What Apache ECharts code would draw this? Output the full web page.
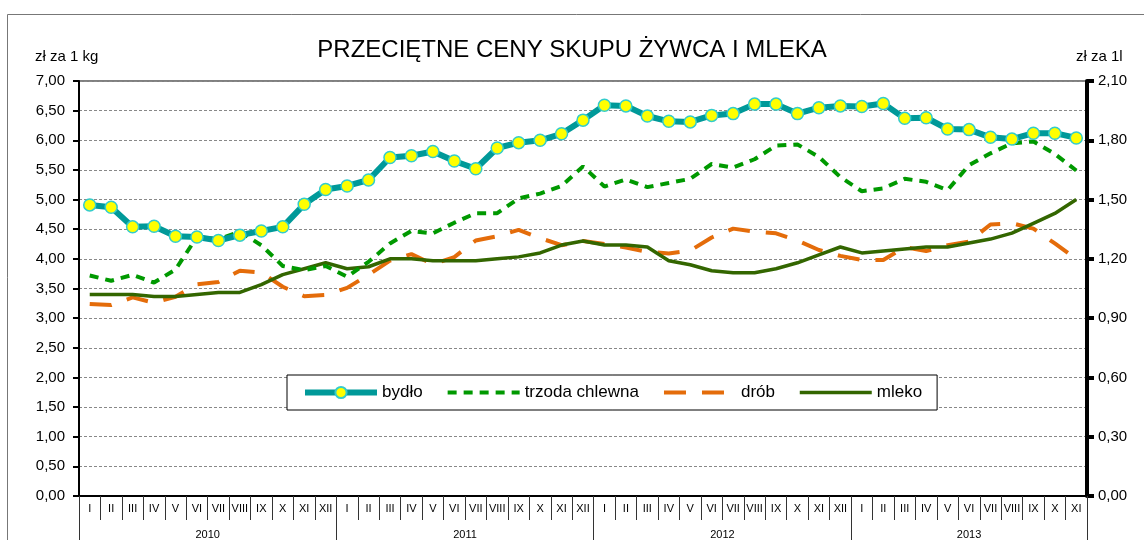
<!DOCTYPE html>
<html>
<head>
<meta charset="utf-8">
<script src="https://cdn.jsdelivr.net/npm/echarts@6/dist/echarts.min.js"></script>
<style>html,body{margin:0;padding:0;background:#fff;}#c{width:1144px;height:540px;}</style>
</head>
<body>
<div id="c"></div>
<script>
const months = ['I','II','III','IV','V','VI','VII','VIII','IX','X','XI','XII',
  'I','II','III','IV','V','VI','VII','VIII','IX','X','XI','XII',
  'I','II','III','IV','V','VI','VII','VIII','IX','X','XI','XII',
  'I','II','III','IV','V','VI','VII','VIII','IX','X','XI'];
const years = ['2010','2011','2012','2013'];
const yearStarts = [0,12,24,36,47];
const bydlo = [4.91,4.87,4.54,4.55,4.38,4.37,4.31,4.40,4.47,4.54,4.92,5.17,5.23,5.33,5.71,5.74,5.81,5.65,5.52,5.87,5.96,6.00,6.11,6.34,6.59,6.58,6.41,6.32,6.31,6.42,6.45,6.61,6.61,6.45,6.55,6.58,6.57,6.62,6.37,6.38,6.19,6.18,6.05,6.02,6.12,6.12,6.04];
const trzoda = [3.72,3.63,3.73,3.60,3.82,4.37,4.33,4.46,4.23,3.88,3.81,3.88,3.70,3.95,4.26,4.47,4.43,4.61,4.77,4.77,5.02,5.10,5.23,5.56,5.22,5.34,5.21,5.28,5.35,5.60,5.54,5.68,5.91,5.93,5.72,5.38,5.14,5.19,5.35,5.30,5.16,5.58,5.78,5.95,5.98,5.77,5.49];
const drob = [3.24,3.22,3.35,3.26,3.36,3.57,3.61,3.80,3.77,3.53,3.37,3.39,3.51,3.73,3.97,4.08,3.91,4.03,4.31,4.38,4.49,4.35,4.23,4.30,4.25,4.19,4.12,4.09,4.14,4.36,4.51,4.46,4.43,4.31,4.15,4.05,3.98,3.98,4.20,4.13,4.23,4.29,4.58,4.60,4.51,4.26,4.00];
const mleko = [1.02,1.02,1.02,1.01,1.01,1.02,1.03,1.03,1.07,1.12,1.15,1.18,1.15,1.16,1.20,1.20,1.19,1.19,1.19,1.20,1.21,1.23,1.27,1.29,1.27,1.27,1.26,1.19,1.17,1.14,1.13,1.13,1.15,1.18,1.22,1.26,1.23,1.24,1.25,1.26,1.26,1.28,1.30,1.33,1.38,1.43,1.50];

const FONT = 'Liberation Sans, Arial, sans-serif';
const fmt = v => v.toFixed(2).replace('.', ',');
const yearCenters = {};
years.forEach((y, i) => { yearCenters[((yearStarts[i] + yearStarts[i+1]) / 2).toFixed(1)] = y; });
const noSym = {color: 'rgba(0,0,0,0)', borderColor: 'rgba(0,0,0,0)', borderWidth: 0, opacity: 0};

const chart = echarts.init(document.getElementById('c'), null, {renderer: 'canvas'});
chart.setOption({
  animation: false,
  backgroundColor: '#fff',
  textStyle: {fontFamily: FONT, color: '#000'},
  graphic: [{type: 'rect', left: 5, top: 12, shape: {width: 1160, height: 560}, style: {fill: 'none', stroke: '#777', lineWidth: 1}, silent: true}],
  title: [
    {text: 'PRZECIĘTNE CENY SKUPU ŻYWCA I MLEKA', left: 'center', top: 33, textStyle: {fontFamily: FONT, fontSize: 24, fontWeight: 'normal', color: '#000'}},
    {text: 'zł za 1 kg', left: 30, top: 44, textStyle: {fontFamily: FONT, fontSize: 15, fontWeight: 'normal', color: '#000'}},
    {text: 'zł za 1l', left: 1071, top: 44, textStyle: {fontFamily: FONT, fontSize: 15, fontWeight: 'normal', color: '#000'}}
  ],
  grid: {left: 79, right: 57, top: 81, bottom: 44, show: true, borderColor: '#000', borderWidth: 1},
  legend: {
    left: 287, top: 375, orient: 'horizontal',
    backgroundColor: '#fff', borderColor: '#000', borderWidth: 1,
    padding: [9, 15], itemWidth: 72, itemHeight: 14, itemGap: 23,
    textStyle: {fontFamily: FONT, fontSize: 17, color: '#000'},
    data: [
      {name: 'bydło', lineStyle: {width: 6}},
      {name: 'trzoda chlewna', itemStyle: noSym, lineStyle: {width: 4}},
      {name: 'drób', itemStyle: noSym, lineStyle: {width: 4}},
      {name: 'mleko', itemStyle: noSym, lineStyle: {width: 3.5}}
    ]
  },
  xAxis: [
    {type: 'category', data: months, boundaryGap: true, position: 'bottom',
     axisLine: {onZero: false, lineStyle: {color: '#000', width: 2}},
     axisTick: {show: true, inside: false, interval: 0, length: 24, lineStyle: {color: '#333', width: 1}},
     axisLabel: {interval: 0, fontSize: 11, color: '#000', margin: 7, fontFamily: FONT},
     splitLine: {show: false}},
    {type: 'value', min: 0, max: 47, interval: 12, position: 'bottom',
     axisLine: {show: false, onZero: false}, axisTick: {show: true, inside: false, length: 50, lineStyle: {color: '#333', width: 1}},
     axisLabel: {show: false}, splitLine: {show: false}},
    {type: 'value', min: 0, max: 47, interval: 0.5, position: 'bottom',
     axisLine: {show: false, onZero: false}, axisTick: {show: false}, splitLine: {show: false},
     axisLabel: {margin: 33, fontSize: 11, color: '#000', fontFamily: FONT, showMinLabel: true, showMaxLabel: true,
       formatter: v => yearCenters[v.toFixed(1)] || ''}}
  ],
  yAxis: [
    {type: 'value', min: 0, max: 7, interval: 0.5, position: 'left',
     axisLine: {show: true, onZero: false, lineStyle: {color: '#000', width: 2}},
     axisTick: {show: true, inside: false, length: 6, lineStyle: {color: '#000', width: 2}},
     axisLabel: {formatter: fmt, fontSize: 15, color: '#000', margin: 14, fontFamily: FONT},
     splitLine: {show: true, lineStyle: {color: '#888', type: [3, 2], width: 1}}},
    {type: 'value', min: 0, max: 2.1, interval: 0.3, position: 'right',
     axisLine: {show: true, onZero: false, lineStyle: {color: '#000', width: 4}},
     axisTick: {show: true, inside: false, length: 7, lineStyle: {color: '#000', width: 4}},
     axisLabel: {formatter: fmt, fontSize: 15, color: '#000', margin: 11, fontFamily: FONT},
     splitLine: {show: false}}
  ],
  series: [
    {name: 'bydło', type: 'line', data: bydlo, yAxisIndex: 0, z: 5,
     lineStyle: {color: '#009999', width: 6}, itemStyle: {color: '#FFFF00', borderColor: '#33CCCC', borderWidth: 1.5},
     symbol: 'circle', symbolSize: 12, showSymbol: true},
    {name: 'trzoda chlewna', type: 'line', data: trzoda, yAxisIndex: 0, z: 4,
     lineStyle: {color: '#009900', width: 4, type: [9, 7]}, itemStyle: {color: '#009900'}, symbol: 'none'},
    {name: 'drób', type: 'line', data: drob, yAxisIndex: 0, z: 3,
     lineStyle: {color: '#E46C0A', width: 4, type: [22, 16]}, itemStyle: {color: '#E46C0A'}, symbol: 'none'},
    {name: 'mleko', type: 'line', data: mleko, yAxisIndex: 1, z: 3,
     lineStyle: {color: '#336600', width: 3.5}, itemStyle: {color: '#336600'}, symbol: 'none'}
  ]
});
</script>
</body>
</html>
